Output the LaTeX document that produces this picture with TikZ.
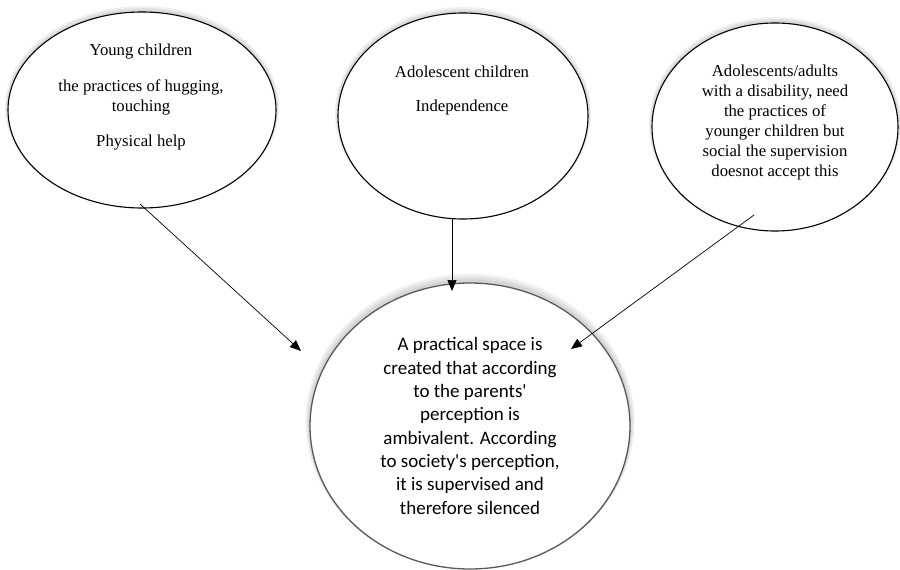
\documentclass[tikz,border=0pt]{standalone}
\usepackage{fontspec}
\setmainfont{Liberation Serif}
\newfontfamily\calib{Carlito}
\usetikzlibrary{shapes.geometric,arrows.meta}
\begin{document}
\begin{tikzpicture}[x=1pt,y=-1pt,
  bubble/.style={ellipse,draw=black,line width=1.1pt,fill=white,inner sep=0pt},
  shade1/.style={ellipse,fill=black,opacity=0.06,inner sep=0pt,draw=none},
  serif/.style={font=\fontsize{16.7}{20}\selectfont,align=center,inner sep=0pt},
  sans/.style={font=\calib\fontsize{19}{23.3}\selectfont,align=center,inner sep=0pt},
  conn/.style={line width=0.7pt,-{Triangle[length=11pt,width=9pt]}}]
\useasboundingbox (0,0) rectangle (900,570);
% soft shadows
\foreach \d in {1,2,3}{
  \node[shade1,minimum width=268pt+\d*2pt,minimum height=196pt+\d*2pt] at (142,110-\d) {};
  \node[shade1,minimum width=250pt+\d*2pt,minimum height=206pt+\d*2pt] at (463,116-\d) {};
  \node[shade1,minimum width=246pt+\d*2pt,minimum height=208pt+\d*2pt] at (775,127-\d) {};
  \node[shade1,minimum width=320pt+\d*3pt,minimum height=286pt+\d*3pt] at (470,425-\d*1.2) {};
}
\node[bubble,minimum width=268pt,minimum height=196pt] (e1) at (142,110) {};
\node[bubble,minimum width=250pt,minimum height=206pt] (e2) at (463,116) {};
\node[bubble,minimum width=246pt,minimum height=208pt] (e3) at (775,127) {};
\node[bubble,draw=black!65,line width=1.3pt,minimum width=320pt,minimum height=286pt] (e4) at (470,426) {};
% texts
\node[serif] (t1a) at (141,52) {Young children};
\node[serif] (t1b) at (141,97) {the practices of hugging,\\touching};
\node[serif] (t1c) at (141,143) {Physical help};
\node[serif] (t2a) at (462,72) {Adolescent children};
\node[serif] (t2b) at (462,107) {Independence};
\node[serif] (t3) at (775,122) {Adolescents/adults\\with a disability, need\\the practices of\\younger children but\\social the supervision\\doesnot accept this};
\node[sans] (t4) at (470,426) {A practical space is\\created that according\\to the parents'\\perception is\\ambivalent. According\\to society's perception,\\it is supervised and\\therefore silenced};
% connectors
\coordinate (s1) at (140,204);
\coordinate (a1) at (301,351);
\coordinate (s2) at (452,218);
\coordinate (a2) at (452,291);
\coordinate (s3) at (754,215);
\coordinate (a3) at (571,349);
\draw[conn] (s1) -- (a1);
\draw[conn] (s2) -- (a2);
\draw[conn] (s3) -- (a3);
\end{tikzpicture}
\end{document}
